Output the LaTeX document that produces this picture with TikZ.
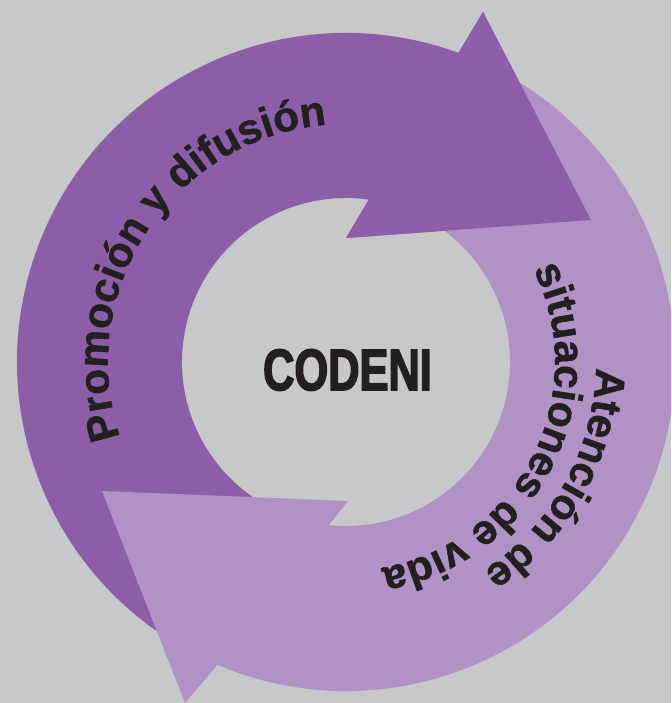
\documentclass[tikz,border=0pt]{standalone}
\usepackage{fontspec}
\setmainfont{Liberation Sans}
\newfontfamily\condfont[FakeStretch=0.74,FakeBold=2.5]{Liberation Sans}
\newfontfamily\heavyfont[FakeBold=1.2]{Liberation Sans}
\usepackage{color}
\definecolor{mygray}{RGB}{199,200,202}
\definecolor{mypurple}{RGB}{141,94,168}
\definecolor{mylilac}{RGB}{177,146,198}
\definecolor{myink}{RGB}{35,31,32}
\usepackage{tikz}
\usetikzlibrary{calc,decorations.text}
\tikzstyle{darkband}=[fill=mypurple]
\tikzstyle{lightband}=[fill=mylilac]
\tikzstyle{curvedtext}=[decorate,decoration={text along path,text align=center,text color=myink}]
\newcommand{\arcfont}{\fontsize{30}{30}\selectfont\heavyfont\bfseries}

\begin{document}
\begin{tikzpicture}[x=0.025cm,y=0.025cm]
\useasboundingbox (0,0) rectangle (671,703);
\clip (0,0) rectangle (671,703);
\fill[mygray] (0,0) rectangle (671,703);
\coordinate (c) at (346,341);
\coordinate (dtip) at (591,483);
\coordinate (dbarbin) at (346,465);
\coordinate (dbarbout) at (483,691);
\coordinate (ltip) at (102,212);
\coordinate (lbarbin) at (348,202);
\coordinate (lbarbout) at (185,0);

% dark arrow
\fill[darkband] ($(c)+(70:329)$) arc[start angle=70,end angle=240,radius=329]
  -- ($(c)+(255:164)$) arc[start angle=255,end angle=82,radius=164]
  -- (dbarbin) -- (dtip) -- (dbarbout) -- cycle;
% light arrow
\fill[lightband] ($(c)+(-113:329)$) arc[start angle=-113,end angle=60,radius=329]
  -- ($(c)+(75:164)$) arc[start angle=75,end angle=-96,radius=164]
  -- (lbarbin) -- (ltip) -- (lbarbout) -- cycle;
% dark head again, over the light tail
\fill[darkband] ($(c)+(70:329)$) -- ($(c)+(82:164)$) -- (dbarbin) -- (dtip) -- (dbarbout) -- cycle;

\path[curvedtext,decoration={text={|\arcfont|Promoción y difusión}}]
  ($(c)+(205:238)$) arc[start angle=205,end angle=88,radius=238];
\path[curvedtext,decoration={text={|\arcfont|Atención de}}]
  ($(c)+(30:250)$) arc[start angle=30,end angle=-88,radius=250];
\path[curvedtext,decoration={text={|\arcfont|situaciones de vida}}]
  ($(c)+(40:209)$) arc[start angle=40,end angle=-94,radius=209];

\node[font={\fontsize{41.7}{42}\selectfont\condfont\bfseries},text=myink] (codeni) at (347.5,333) {CODENI};
\end{tikzpicture}
\end{document}
